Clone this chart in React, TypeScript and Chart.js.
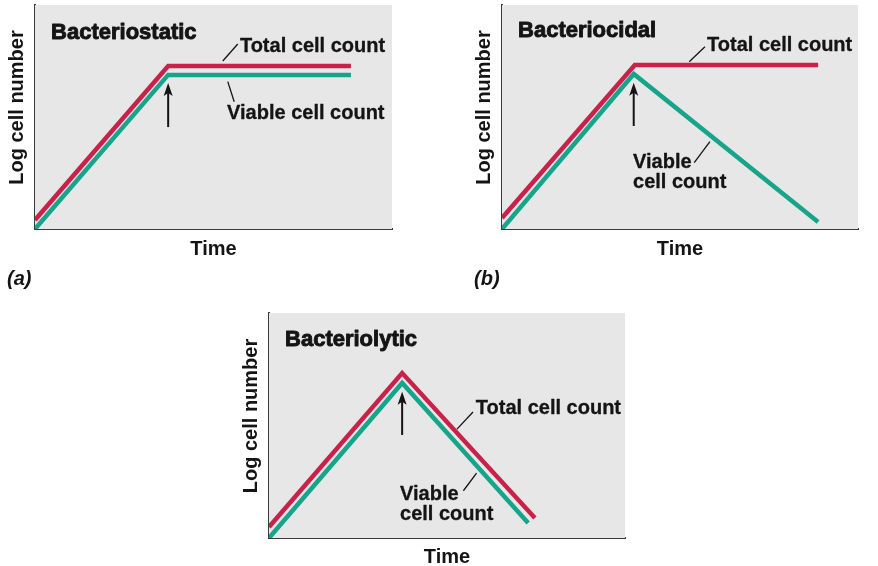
import React, { useEffect, useRef } from "react";
import { Chart, registerables } from "chart.js";

Chart.register(...registerables);

const FONT = "'Liberation Sans', Arial, Helvetica, sans-serif";
const RED = "#c9224a";
const GREEN = "#16a48a";
const BG = "#e8e7e8";
const INK = "#141414";

// Shared text
const yAxisTitle = "Log cell number";
const xAxisTitle = "Time";
const totalLabel = ["Total cell count"];
const viableLabelOne = ["Viable cell count"];
const viableLabelTwo = ["Viable", "cell count"];

// Panel (a) Bacteriostatic
const timeA = [0, 3.73, 8.85];
const totalA = [0.4, 7.28, 7.28];
const viableA = [0, 6.88, 6.88];

// Panel (b) Bacteriocidal
const timeTotalB = [0, 3.73, 8.88];
const totalB = [0.49, 7.32, 7.32];
const timeViableB = [0, 3.7, 8.88];
const viableB = [0, 6.92, 0.31];

// Panel (c) Bacteriolytic
const timeTotalC = [0, 3.74, 7.47];
const totalC = [0.49, 7.33, 0.89];
const timeViableC = [0, 3.74, 7.28];
const viableC = [0, 6.89, 0.67];

type Callout = { lines: string[]; x: number; y: number; lead: number[] };
type Panel = {
  title: string;
  titleAt: number[];
  letter: string;
  series: { times: number[]; values: number[]; color: string }[];
  arrow: { x: number; from: number; to: number };
  total: Callout;
  viable: Callout;
  box: { left: number; top: number; width: number; height: number };
  pad: { left: number; right: number; top: number; bottom: number };
  xTitlePad: { top: number; bottom: number };
};

const panels: Panel[] = [
  {
    title: "Bacteriostatic",
    titleAt: [0.45, 8.48],
    letter: "(a)",
    series: [
      { times: timeA, values: totalA, color: RED },
      { times: timeA, values: viableA, color: GREEN },
    ],
    arrow: { x: 3.73, from: 4.55, to: 6.52 },
    total: { lines: totalLabel, x: 5.74, y: 7.9, lead: [5.68, 8.26, 5.26, 7.5] },
    viable: { lines: viableLabelOne, x: 5.38, y: 4.91, lead: [5.4, 6.58, 5.58, 5.68] },
    box: { left: 0, top: 0, width: 400, height: 295 },
    pad: { left: 35, right: 8, top: 5, bottom: 30 },
    xTitlePad: { top: 8.5, bottom: 3.5 },
  },
  {
    title: "Bacteriocidal",
    titleAt: [0.45, 8.57],
    letter: "(b)",
    series: [
      { times: timeTotalB, values: totalB, color: RED },
      { times: timeViableB, values: viableB, color: GREEN },
    ],
    arrow: { x: 3.7, from: 4.6, to: 6.53 },
    total: { lines: totalLabel, x: 5.76, y: 7.95, lead: [5.7, 8.14, 5.26, 7.47] },
    viable: { lines: viableLabelTwo, x: 3.68, y: 2.72, lead: [5.4, 2.96, 5.84, 3.9] },
    box: { left: 460, top: 0, width: 418, height: 295 },
    pad: { left: 42, right: 20, top: 5, bottom: 30 },
    xTitlePad: { top: 8.5, bottom: 3.5 },
  },
  {
    title: "Bacteriolytic",
    titleAt: [0.45, 8.53],
    letter: "",
    series: [
      { times: timeTotalC, values: totalC, color: RED },
      { times: timeViableC, values: viableC, color: GREEN },
    ],
    arrow: { x: 3.74, from: 4.58, to: 6.5 },
    total: { lines: totalLabel, x: 5.81, y: 5.51, lead: [5.73, 5.6, 5.28, 4.84] },
    viable: { lines: viableLabelTwo, x: 3.68, y: 1.69, lead: [5.46, 2.1, 5.83, 2.88] },
    box: { left: 230, top: 300, width: 400, height: 276 },
    pad: { left: 39, right: 5, top: 13, bottom: 0 },
    xTitlePad: { top: 7, bottom: 7 },
  },
];

function makePlugin(p: Panel) {
  return {
    id: "panelDecor",
    beforeDatasetsDraw(chart: any) {
      const { ctx, chartArea: a } = chart;
      ctx.save();
      ctx.fillStyle = BG;
      ctx.fillRect(a.left, a.top, a.right - a.left, a.bottom - a.top);
      ctx.restore();
    },
    afterDatasetsDraw(chart: any) {
      const { ctx, chartArea: a } = chart;
      const xs = chart.scales.x;
      const ys = chart.scales.y;
      const px = (v: number) => xs.getPixelForValue(v);
      const py = (v: number) => ys.getPixelForValue(v);
      ctx.save();
      ctx.fillStyle = INK;
      ctx.strokeStyle = INK;
      ctx.textAlign = "left";
      ctx.textBaseline = "alphabetic";
      ctx.lineJoin = "round";

      // panel title (heavy)
      ctx.font = `bold 22px ${FONT}`;
      ctx.lineWidth = 0.9;
      ctx.fillText(p.title, px(p.titleAt[0]), py(p.titleAt[1]));
      ctx.strokeText(p.title, px(p.titleAt[0]), py(p.titleAt[1]));

      // callouts
      ctx.font = `bold 20px ${FONT}`;
      for (const c of [p.total, p.viable]) {
        c.lines.forEach((t, i) => {
          ctx.lineWidth = 0.3;
          ctx.fillText(t, px(c.x), py(c.y) + i * 20);
          ctx.strokeText(t, px(c.x), py(c.y) + i * 20);
        });
        ctx.lineWidth = 1.3;
        ctx.beginPath();
        ctx.moveTo(px(c.lead[0]), py(c.lead[1]));
        ctx.lineTo(px(c.lead[2]), py(c.lead[3]));
        ctx.stroke();
      }

      // arrow marking the addition of antibiotic
      const ax = px(p.arrow.x);
      const y0 = py(p.arrow.from);
      const y1 = py(p.arrow.to);
      ctx.lineWidth = 2;
      ctx.lineJoin = "miter";
      ctx.beginPath();
      ctx.moveTo(ax, y0);
      ctx.lineTo(ax, y1 + 8);
      ctx.stroke();
      ctx.beginPath();
      ctx.moveTo(ax, y1);
      ctx.lineTo(ax - 4.5, y1 + 13);
      ctx.lineTo(ax, y1 + 10);
      ctx.lineTo(ax + 4.5, y1 + 13);
      ctx.closePath();
      ctx.fill();

      // y axis title (rotated)
      ctx.save();
      ctx.font = `bold 20px ${FONT}`;
      ctx.textAlign = "center";
      ctx.textBaseline = "middle";
      ctx.translate(a.left - 18, (a.top + a.bottom) / 2 - 9.5);
      ctx.rotate(-Math.PI / 2);
      ctx.fillText(yAxisTitle, 0, 0);
      ctx.restore();

      // panel letter
      if (p.letter) {
        ctx.font = `italic bold 20px ${FONT}`;
        ctx.fillText(p.letter, a.left - 28, a.bottom + 56);
      }
      ctx.restore();
    },
  };
}

function PanelChart({ p }: { p: Panel }) {
  const ref = useRef<HTMLCanvasElement | null>(null);
  useEffect(() => {
    if (!ref.current) return;
    const chart = new Chart(ref.current, {
      type: "line",
      data: {
        datasets: p.series.map((s) => ({
          data: s.times.map((t, i) => ({ x: t, y: s.values[i] })),
          borderColor: s.color,
          backgroundColor: s.color,
          borderWidth: 4.5,
          pointRadius: 0,
          tension: 0,
          fill: false,
        })),
      },
      options: {
        responsive: false,
        animation: false,
        devicePixelRatio: 1,
        events: [],
        layout: { padding: p.pad },
        plugins: { legend: { display: false }, tooltip: { enabled: false } },
        scales: {
          x: {
            type: "linear",
            min: 0,
            max: 10,
            grid: { display: false, drawTicks: false },
            ticks: { display: false },
            border: { display: true, color: "#3a3a3a", width: 2 },
            title: {
              display: true,
              text: xAxisTitle,
              color: INK,
              font: { family: FONT, size: 20, weight: "bold", lineHeight: 1.2 },
              padding: p.xTitlePad,
            },
          },
          y: {
            type: "linear",
            min: 0,
            max: 10,
            grid: { display: false, drawTicks: false },
            ticks: { display: false },
            border: { display: true, color: "#3a3a3a", width: 2 },
          },
        },
      },
      plugins: [makePlugin(p)],
    } as any);
    return () => chart.destroy();
  }, [p]);
  return (
    <canvas
      ref={ref}
      width={p.box.width}
      height={p.box.height}
      style={{
        position: "absolute",
        left: p.box.left,
        top: p.box.top,
        width: p.box.width,
        height: p.box.height,
      }}
    />
  );
}

export default function App() {
  return (
    <div
      style={{
        position: "fixed",
        left: 0,
        top: 0,
        width: 878,
        height: 566,
        overflow: "hidden",
        background: "#ffffff",
      }}
    >
      {panels.map((p, i) => (
        <PanelChart key={i} p={p} />
      ))}
    </div>
  );
}
